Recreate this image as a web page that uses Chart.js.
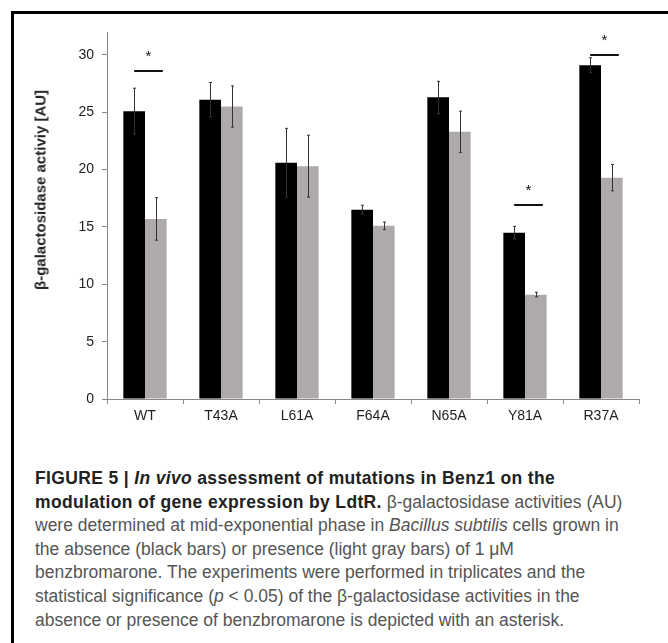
<!DOCTYPE html>
<html>
<head>
<meta charset="utf-8">
<script src="https://cdn.jsdelivr.net/npm/chart.js@4.4.1/dist/chart.umd.min.js"></script>
<style>
  body { margin: 0; background: #fff; }
  #page { position: relative; width: 668px; height: 643px; overflow: hidden; background: #fff; }
  #frame { position: absolute; left: 11px; top: 11px; width: 700px; height: 700px;
           border-left: 3px solid #000; border-top: 3px solid #000; }
  #chart-box { position: absolute; left: 0; top: 0; width: 668px; height: 440px; }
  #y-title { position: absolute; left: 40px; top: 190px; transform: translate(-50%, -50%) rotate(-90deg);
             white-space: nowrap; font: bold 15px "Liberation Sans", Arial, sans-serif; color: #222; }
  #caption { position: absolute; left: 35px; top: 467px; font: 17.5px "Liberation Sans", Arial, sans-serif;
             line-height: 23.6px; color: #555; white-space: nowrap; }
  #caption b { color: #222; letter-spacing: 0.35px; }
</style>
</head>
<body>
<div id="page">
  <div id="frame"></div>
  <div id="chart-box"><canvas id="bar-chart"></canvas></div>
  <div id="y-title">β-galactosidase activiy [AU]</div>
  <div id="caption">
    <div><b>FIGURE 5 | <i>In vivo</i> assessment of mutations in Benz1 on the</b></div>
    <div><b>modulation of gene expression by LdtR.</b> β-galactosidase activities (AU)</div>
    <div>were determined at mid-exponential phase in <i>Bacillus subtilis</i> cells grown in</div>
    <div>the absence (black bars) or presence (light gray bars) of 1 μM</div>
    <div>benzbromarone. The experiments were performed in triplicates and the</div>
    <div>statistical significance (<i>p</i> &lt; 0.05) of the β-galactosidase activities in the</div>
    <div>absence or presence of benzbromarone is depicted with an asterisk.</div>
  </div>
</div>
<script>
const categories = ["WT", "T43A", "L61A", "F64A", "N65A", "Y81A", "R37A"];
const absentValues = [25.1, 26.1, 20.6, 16.5, 26.3, 14.5, 29.1];
const absentErrors = [2.0, 1.5, 3.0, 0.4, 1.4, 0.55, 0.65];
const presentValues = [15.7, 25.5, 20.3, 15.1, 23.3, 9.1, 19.3];
const presentErrors = [1.85, 1.8, 2.7, 0.33, 1.8, 0.2, 1.15];
const yTicks = [0, 5, 10, 15, 20, 25, 30];
const sigCategories = ["WT", "Y81A", "R37A"];
const sigLevels = [28.6, 16.9, 30.0];

const errorBars = {
  id: "errorBars",
  afterDatasetsDraw(chart) {
    const ctx = chart.ctx;
    const y = chart.scales.y;
    const errs = [absentErrors, presentErrors];
    ctx.save();
    ctx.strokeStyle = "#333";
    ctx.lineWidth = 1;
    chart.data.datasets.forEach((ds, di) => {
      const meta = chart.getDatasetMeta(di);
      meta.data.forEach((bar, i) => {
        const x = Math.round(bar.x) + 0.5;
        const top = y.getPixelForValue(ds.data[i] + errs[di][i]);
        const bot = y.getPixelForValue(ds.data[i] - errs[di][i]);
        ctx.beginPath();
        ctx.moveTo(x, top); ctx.lineTo(x, bot);
        ctx.moveTo(x - 1.5, top); ctx.lineTo(x + 1.5, top);
        ctx.moveTo(x - 1.5, bot); ctx.lineTo(x + 1.5, bot);
        ctx.stroke();
      });
    });
    ctx.restore();
  }
};

const significance = {
  id: "significance",
  afterDatasetsDraw(chart) {
    const ctx = chart.ctx;
    const y = chart.scales.y;
    const m0 = chart.getDatasetMeta(0);
    const m1 = chart.getDatasetMeta(1);
    ctx.save();
    ctx.strokeStyle = "#111";
    ctx.fillStyle = "#111";
    ctx.lineWidth = 2;
    ctx.font = '15px "Liberation Sans", Arial, sans-serif';
    ctx.textAlign = "center";
    ctx.textBaseline = "middle";
    sigCategories.forEach((cat, k) => {
      const i = categories.indexOf(cat);
      const x1 = m0.data[i].x;
      const x2 = m1.data[i].x + 7;
      const ly = Math.round(y.getPixelForValue(sigLevels[k]));
      ctx.beginPath();
      ctx.moveTo(x1, ly); ctx.lineTo(x2, ly);
      ctx.stroke();
      ctx.fillText("*", (x1 + x2) / 2, ly - 14);
    });
    ctx.restore();
  }
};

new Chart(document.getElementById("bar-chart"), {
  type: "bar",
  data: {
    labels: categories,
    datasets: [
      { label: "absence", data: absentValues, backgroundColor: "#000" },
      { label: "presence", data: presentValues, backgroundColor: "#adaaa9" }
    ]
  },
  options: {
    responsive: true,
    maintainAspectRatio: false,
    animation: false,
    categoryPercentage: 0.57,
    barPercentage: 1.0,
    layout: { padding: { left: 0, right: 29, top: 32, bottom: 0 } },
    plugins: { legend: { display: false }, tooltip: { enabled: false } },
    scales: {
      x: {
        grid: { drawOnChartArea: false, color: "#888", tickLength: 5 },
        border: { color: "#888" },
        ticks: { color: "#222", padding: 4, font: { family: "Liberation Sans", size: 14 } },
        afterFit: (s) => { s.height = 41; }
      },
      y: {
        min: 0,
        max: 32,
        grid: { drawOnChartArea: false, color: "#888", tickLength: 5 },
        border: { color: "#888" },
        ticks: { color: "#222", padding: 8, font: { family: "Liberation Sans", size: 14 } },
        afterBuildTicks: (s) => { s.ticks = yTicks.map((v) => ({ value: v })); },
        afterFit: (s) => { s.width = 107; }
      }
    }
  },
  plugins: [errorBars, significance]
});
</script>
</body>
</html>
